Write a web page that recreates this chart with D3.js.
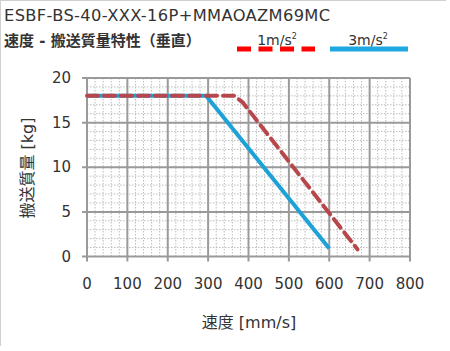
<!DOCTYPE html>
<html lang="ja">
<head>
  <meta charset="UTF-8">
  <title>速度 - 搬送質量特性</title>
  <style>
    body { margin: 0; background: #fff; }
    svg { display: block; }
  </style>
  <script src="https://d3js.org/d3.v7.min.js"></script>
</head>
<body>
  <svg id="chart" width="450" height="351" font-family="'DejaVu Sans', 'Noto Sans CJK JP', sans-serif"></svg>
  <script>
    // series data: [speed mm/s, mass kg]
    const accel1 = [[0, 18], [365, 18], [385, 17.3], [670, 0.8]];
    const accel3 = [[0, 18], [295, 18], [600, 0.9]];
    const xTicks = [0, 100, 200, 300, 400, 500, 600, 700, 800];
    const yTicks = [0, 5, 10, 15, 20];
    const legendLabels = ['1m/s', '3m/s'];

    const svg = d3.select('#chart');
    const plotL = 87, plotR = 410, plotT = 78, plotB = 256.5;

    const x = d3.scaleLinear().domain([0, 800]).range([plotL, plotR]);
    const y = d3.scaleLinear().domain([0, 20]).range([plotB, plotT]);

    // frame
    svg.append('line').attr('x1', 0.5).attr('x2', 0.5).attr('y1', 0).attr('y2', 346)
      .attr('stroke', '#d0d0d0');
    svg.append('line').attr('x1', 0).attr('x2', 446).attr('y1', 0.5).attr('y2', 0.5)
      .attr('stroke', '#d0d0d0');

    // titles
    svg.append('text').attr('x', 4).attr('y', 21).attr('font-size', 16.3)
      .attr('letter-spacing', 0.35)
      .attr('fill', '#333').text('ESBF-BS-40-XXX-16P+MMAOAZM69MC');
    svg.append('text').attr('x', 4).attr('y', 46).attr('font-size', 15)
      .attr('font-weight', 'bold').attr('fill', '#333').text('速度 - 搬送質量特性（垂直）');

    // minor grid
    const minor = svg.append('g').attr('stroke', '#bdbdbd').attr('stroke-width', 1)
      .attr('stroke-dasharray', '1.5,1.5');
    minor.selectAll('line.mx').data(d3.range(0, 801, 20).filter(v => v % 100))
      .enter().append('line')
      .attr('x1', d => x(d)).attr('x2', d => x(d)).attr('y1', plotT).attr('y2', plotB);
    minor.selectAll('line.my').data(d3.range(0, 21, 1).filter(v => v % 5))
      .enter().append('line')
      .attr('y1', d => y(d)).attr('y2', d => y(d)).attr('x1', plotL).attr('x2', plotR);

    // major grid + ticks
    const major = svg.append('g').attr('stroke', '#9a9a9a').attr('stroke-width', 2);
    major.selectAll('line.gx').data(xTicks).enter().append('line')
      .attr('x1', d => x(d)).attr('x2', d => x(d)).attr('y1', plotT).attr('y2', plotB + 5);
    major.selectAll('line.gy').data(yTicks).enter().append('line')
      .attr('y1', d => y(d)).attr('y2', d => y(d)).attr('x1', plotL - 5).attr('x2', plotR);

    // tick labels
    svg.append('g').selectAll('text').data(xTicks).enter().append('text')
      .attr('x', d => x(d)).attr('y', 289).attr('text-anchor', 'middle')
      .attr('font-size', 15).attr('fill', '#333').text(d => d);
    svg.append('g').selectAll('text').data(yTicks).enter().append('text')
      .attr('x', 71).attr('y', d => y(d) + 5).attr('text-anchor', 'end')
      .attr('font-size', 15).attr('fill', '#333').text(d => d);

    // axis titles
    svg.append('text').attr('x', 249).attr('y', 328).attr('text-anchor', 'middle')
      .attr('font-size', 16).attr('fill', '#333').text('速度 [mm/s]');
    svg.append('text').attr('transform', 'translate(33,168) rotate(-90)')
      .attr('text-anchor', 'middle').attr('font-size', 16).attr('fill', '#333')
      .text('搬送質量 [kg]');

    // series
    const line = d3.line().x(d => x(d[0])).y(d => y(d[1]));
    svg.append('path').datum(accel3).attr('d', line).attr('fill', 'none')
      .attr('stroke', '#1da2d8').attr('stroke-width', 4);
    svg.append('path').datum(accel1).attr('d', line).attr('fill', 'none')
      .attr('stroke', '#b8474c').attr('stroke-width', 4)
      .attr('stroke-dasharray', '11,6').attr('stroke-linecap', 'round')
      .attr('stroke-linejoin', 'round');

    // legend
    const legend = svg.append('g');
    legend.append('line').attr('x1', 237).attr('x2', 315).attr('y1', 49).attr('y2', 49)
      .attr('stroke', '#f00').attr('stroke-width', 5).attr('stroke-dasharray', '14,7.5');
    legend.append('line').attr('x1', 330).attr('x2', 408).attr('y1', 49).attr('y2', 49)
      .attr('stroke', '#1ea7e1').attr('stroke-width', 5);
    const lt = legend.selectAll('text').data(legendLabels).enter().append('text')
      .attr('x', (d, i) => i ? 368 : 277).attr('y', 45).attr('text-anchor', 'middle')
      .attr('font-size', 14).attr('fill', '#333');
    lt.append('tspan').text(d => d);
    lt.append('tspan').attr('font-size', 8).attr('dy', -6).text('2');
  </script>
</body>
</html>
